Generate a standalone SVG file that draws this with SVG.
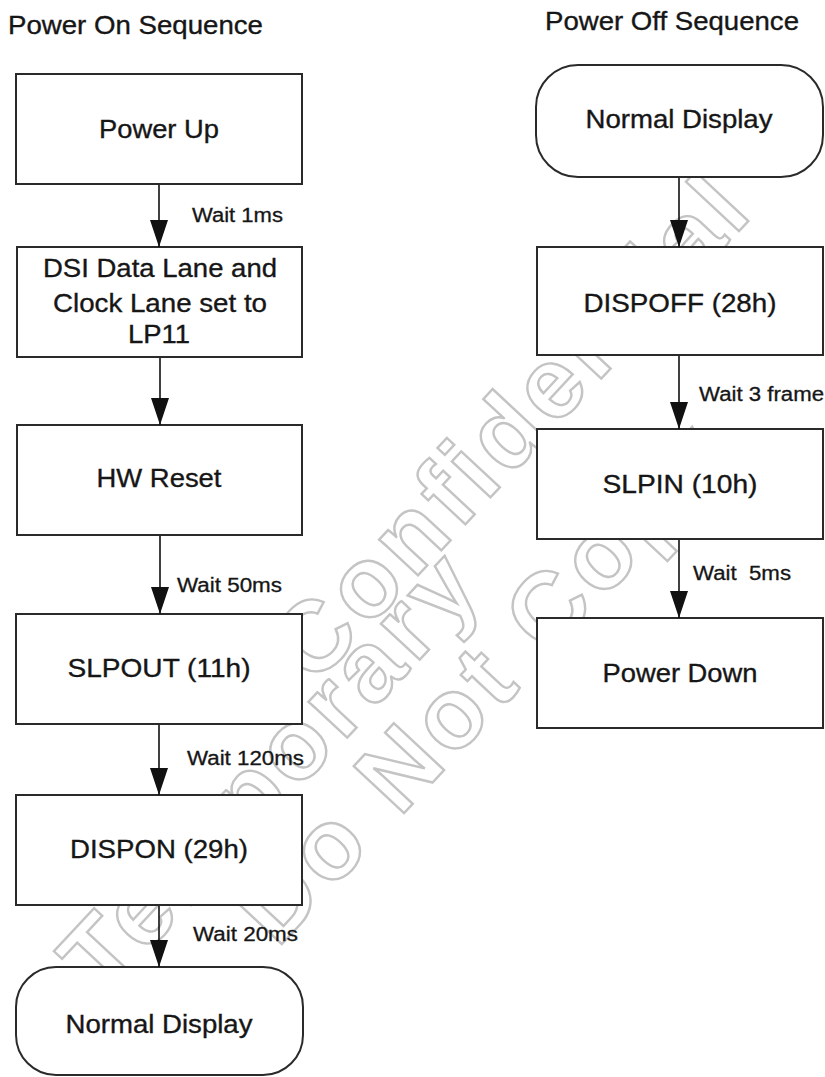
<svg xmlns="http://www.w3.org/2000/svg" width="825" height="1077" viewBox="0 0 825 1077">
<style>
.bg{fill:#fff}
.wm{font-family:"Liberation Sans",Arial,sans-serif;font-size:100px;font-weight:bold;letter-spacing:6px;fill:none;stroke:#c4c4c4;stroke-width:2.4}
.box{fill:#fff;stroke:#2a2a2a;stroke-width:2}
.t{font-family:"Liberation Sans",Arial,sans-serif;font-size:26px;fill:#161616;stroke:#161616;stroke-width:0.35;text-anchor:middle}
.ttl{font-family:"Liberation Sans",Arial,sans-serif;font-size:26px;fill:#161616;stroke:#161616;stroke-width:0.35}
.lbl{font-family:"Liberation Sans",Arial,sans-serif;font-size:20px;fill:#161616;stroke:#161616;stroke-width:0.3}
.con line{stroke:#111;stroke-width:1.6;marker-end:url(#ah)}
</style>
<defs>
<marker id="ah" markerUnits="userSpaceOnUse" markerWidth="27" markerHeight="18" viewBox="0 0 27 18" refX="27" refY="9" orient="auto">
<path d="M0,0 L27,9 L0,18 z" fill="#111"/>
</marker>
</defs>
<rect class="bg" x="0" y="0" width="825" height="1077"/>
<g id="watermark" transform="rotate(-47)">
<text class="wm" x="-288" y="698">Confidential</text>
<text class="wm" x="-660" y="757">Temporary</text>
<text class="wm" x="-505" y="850">Do Not Copy</text>
</g>
<g id="titles">
<text class="ttl" x="8" y="34" textLength="255" lengthAdjust="spacingAndGlyphs">Power On Sequence</text>
<text class="ttl" x="545" y="30" textLength="254" lengthAdjust="spacingAndGlyphs">Power Off Sequence</text>
</g>
<g id="power-up">
<rect class="box" x="16" y="74" width="286" height="110"/>
<text class="t" x="159" y="138" textLength="120" lengthAdjust="spacingAndGlyphs">Power Up</text>
</g>
<g id="dsi-lp11">
<rect class="box" x="17" y="247" width="285" height="110"/>
<text class="t" x="160" y="277" textLength="234" lengthAdjust="spacingAndGlyphs">DSI Data Lane and</text>
<text class="t" x="160" y="312" textLength="214" lengthAdjust="spacingAndGlyphs">Clock Lane set to</text>
<text class="t" x="159" y="343" textLength="62" lengthAdjust="spacingAndGlyphs">LP11</text>
</g>
<g id="hw-reset">
<rect class="box" x="17" y="425" width="285" height="110"/>
<text class="t" x="159" y="487" textLength="125" lengthAdjust="spacingAndGlyphs">HW Reset</text>
</g>
<g id="slpout">
<rect class="box" x="16" y="614" width="286" height="110"/>
<text class="t" x="159" y="677" textLength="183" lengthAdjust="spacingAndGlyphs">SLPOUT (11h)</text>
</g>
<g id="dispon">
<rect class="box" x="16" y="795" width="286" height="110"/>
<text class="t" x="159" y="858" textLength="178" lengthAdjust="spacingAndGlyphs">DISPON (29h)</text>
</g>
<g id="normal-display-on">
<rect class="box" x="16" y="967" width="287" height="108" rx="40" ry="40"/>
<text class="t" x="159" y="1033" textLength="187" lengthAdjust="spacingAndGlyphs">Normal Display</text>
</g>
<g id="normal-display-off">
<rect class="box" x="536" y="65" width="287" height="112" rx="42" ry="42"/>
<text class="t" x="679" y="128" textLength="187" lengthAdjust="spacingAndGlyphs">Normal Display</text>
</g>
<g id="dispoff">
<rect class="box" x="537" y="247" width="286" height="108"/>
<text class="t" x="680" y="312" textLength="193" lengthAdjust="spacingAndGlyphs">DISPOFF (28h)</text>
</g>
<g id="slpin">
<rect class="box" x="537" y="429" width="286" height="110"/>
<text class="t" x="680" y="493" textLength="155" lengthAdjust="spacingAndGlyphs">SLPIN (10h)</text>
</g>
<g id="power-down">
<rect class="box" x="537" y="618" width="286" height="110"/>
<text class="t" x="680" y="682" textLength="155" lengthAdjust="spacingAndGlyphs">Power Down</text>
</g>
<g id="connectors" class="con">
<line x1="159" y1="185" x2="159" y2="247"/>
<line x1="160" y1="358" x2="160" y2="425"/>
<line x1="160" y1="536" x2="160" y2="614"/>
<line x1="159" y1="725" x2="159" y2="795"/>
<line x1="159" y1="906" x2="159" y2="967"/>
<line x1="679" y1="178" x2="679" y2="247"/>
<line x1="679" y1="356" x2="679" y2="429"/>
<line x1="679" y1="540" x2="679" y2="618"/>
</g>
<g id="labels">
<text class="lbl" x="192" y="222" textLength="91" lengthAdjust="spacingAndGlyphs">Wait 1ms</text>
<text class="lbl" x="177" y="592" textLength="105" lengthAdjust="spacingAndGlyphs">Wait 50ms</text>
<text class="lbl" x="187" y="765" textLength="117" lengthAdjust="spacingAndGlyphs">Wait 120ms</text>
<text class="lbl" x="193" y="941" textLength="105" lengthAdjust="spacingAndGlyphs">Wait 20ms</text>
<text class="lbl" x="699" y="401" textLength="125" lengthAdjust="spacingAndGlyphs">Wait 3 frame</text>
<text class="lbl" x="693" y="580" textLength="98" lengthAdjust="spacingAndGlyphs" xml:space="preserve">Wait  5ms</text>
</g>
</svg>
